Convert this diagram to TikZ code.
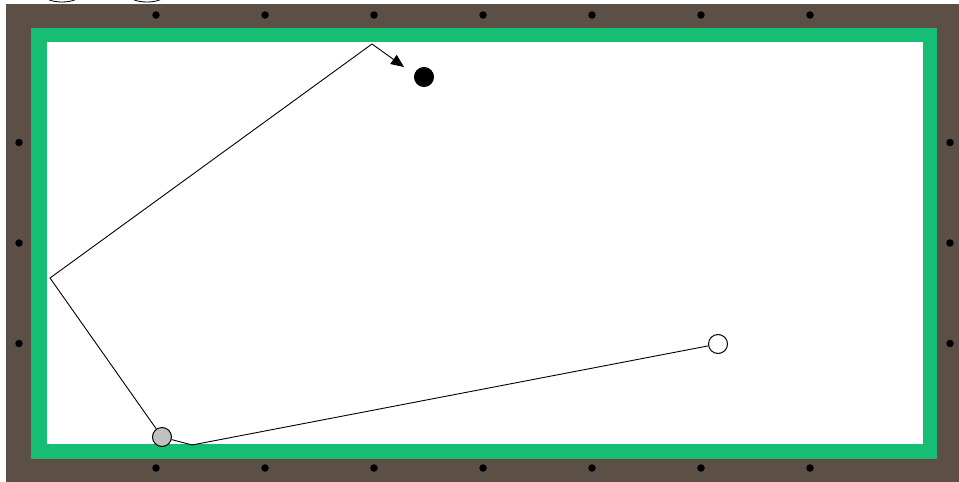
\documentclass[tikz,border=0pt]{standalone}
\usepackage{xcolor}
\usetikzlibrary{arrows.meta}
\definecolor{wood}{RGB}{92,80,70}
\definecolor{cloth}{RGB}{22,190,115}
\definecolor{railedge}{RGB}{120,62,58}
\definecolor{cueball}{RGB}{192,192,192}

\begin{document}
\begin{tikzpicture}[
    x=1pt, y=-1pt,
    ball/.style={circle, draw, line width=1pt, minimum size=19pt, inner sep=0pt, fill=#1},
    spot/.style={circle, fill=black, minimum size=7.5pt, inner sep=0pt},
    track/.style={line width=0.9pt}
]
\useasboundingbox (0,0) rectangle (959,482);
% table
\fill[wood] (6,4) rectangle (959,482);
\fill[cloth] (31,28) rectangle (937,459);
\draw[railedge, line width=0.8pt] (31,459.5) -- (937,459.5);
\fill[white] (47,42) rectangle (923,444);
% cut-off marks above the table
\begin{scope}
\clip (0,0) rectangle (959,4);
\draw[line width=0.8pt] (62,-6) ellipse (19pt and 8pt);
\draw[line width=0.8pt] (147,-6) ellipse (19pt and 8pt);
\end{scope}
% diamonds
\foreach \k in {0,...,6} {
    \node[spot] (top\k) at (156+109*\k,15) {};
    \node[spot] (bot\k) at (156+109*\k,468) {};
}
\foreach \k in {0,1,2} {
    \node[spot] (lft\k) at (19,142.5+100.5*\k) {};
    \node[spot] (rgt\k) at (950,142.5+100.5*\k) {};
}
% balls
\node[ball=white] (white) at (718,344) {};
\node[ball=cueball] (cue) at (162,437) {};
\node[ball=black] (object) at (424,77) {};
% rail points
\coordinate (b1) at (192,445);
\coordinate (b2) at (50,278);
\coordinate (b3) at (372,44);
\coordinate (aim) at (404,67);
\draw[track] (white) -- (b1) -- (cue);
\draw[track] (cue) -- (b2) -- (b3);
\draw[track, -{Triangle[length=13pt, width=11pt]}] (b3) -- (aim);
\end{tikzpicture}
\end{document}
